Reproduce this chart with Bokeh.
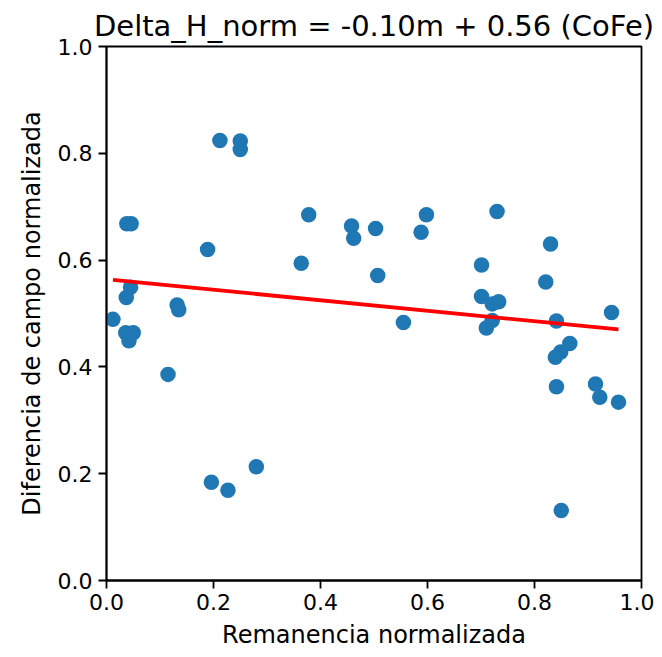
from bokeh.plotting import figure
from bokeh.embed import file_html
from bokeh.resources import INLINE
from bokeh.models import Range1d, FixedTicker, CustomJSTickFormatter
import numpy as np

remanencia = [0.212, 0.250, 0.250, 0.038, 0.046, 0.189, 0.045, 0.037, 0.132, 0.135,
              0.012, 0.036, 0.050, 0.042, 0.115, 0.378, 0.458, 0.462, 0.503, 0.598,
              0.588, 0.364, 0.507, 0.555, 0.730, 0.830, 0.701, 0.821, 0.701, 0.733,
              0.721, 0.721, 0.710, 0.944, 0.841, 0.866, 0.849, 0.839, 0.841, 0.914,
              0.922, 0.957, 0.196, 0.227, 0.280, 0.850]
delta_h = [0.824, 0.823, 0.807, 0.668, 0.668, 0.620, 0.549, 0.530, 0.516, 0.507,
           0.489, 0.464, 0.464, 0.449, 0.386, 0.685, 0.664, 0.641, 0.659, 0.685,
           0.652, 0.594, 0.571, 0.483, 0.691, 0.630, 0.591, 0.559, 0.532, 0.522,
           0.518, 0.487, 0.473, 0.502, 0.486, 0.444, 0.428, 0.418, 0.363, 0.368,
           0.343, 0.334, 0.184, 0.169, 0.213, 0.131]
slope = -0.098
intercept = 0.564
ticks = [0.0, 0.2, 0.4, 0.6, 0.8, 1.0]

FONT = "DejaVu Sans"

p = figure(width=654, height=657, output_backend="svg", toolbar_location=None,
           x_range=Range1d(0, 1), y_range=Range1d(0, 1),
           min_border_left=106, min_border_right=13, min_border_top=46, min_border_bottom=77)
p.title.text = "Delta_H_norm = -0.10m + 0.56 (CoFe)"
p.title.align = "center"
p.title.text_font = FONT
p.title.text_font_size = "29px"
p.title.text_font_style = "normal"
p.title.text_color = "#000000"
p.title.standoff = 7

p.xgrid.visible = False
p.ygrid.visible = False
p.outline_line_color = "black"
p.outline_line_width = 1.8
p.background_fill_color = "white"
p.border_fill_color = "white"

fmt = CustomJSTickFormatter(code="return tick.toFixed(1);")
for ax, lab in ((p.xaxis[0], "Remanencia normalizada"), (p.yaxis[0], "Diferencia de campo normalizada")):
    ax.ticker = FixedTicker(ticks=ticks)
    ax.formatter = fmt
    ax.axis_label = lab
    ax.axis_label_text_font = FONT
    ax.axis_label_text_font_size = "24px"
    ax.axis_label_text_font_style = "normal"
    ax.axis_label_text_color = "#000000"
    ax.major_label_text_font = FONT
    ax.major_label_text_font_size = "22px"
    ax.major_label_text_color = "#000000"
    ax.major_tick_out = 8
    ax.major_tick_in = 0
    ax.minor_tick_out = 0
    ax.minor_tick_in = 0
    ax.axis_line_color = "black"
    ax.axis_line_width = 1.8
    ax.major_tick_line_color = "black"
    ax.major_tick_line_width = 1.8
    ax.major_label_standoff = 6
p.xaxis[0].major_label_standoff = 5
p.xaxis[0].axis_label_standoff = 8
p.yaxis[0].axis_label_standoff = 9

p.scatter(remanencia, delta_h, size=15.5, color="#1f77b4", line_color=None)

xl = np.array([min(remanencia), max(remanencia)])
p.line(xl, slope * xl + intercept, line_color="red", line_width=3.8)

open("out.html", "w").write(file_html(p, INLINE))
